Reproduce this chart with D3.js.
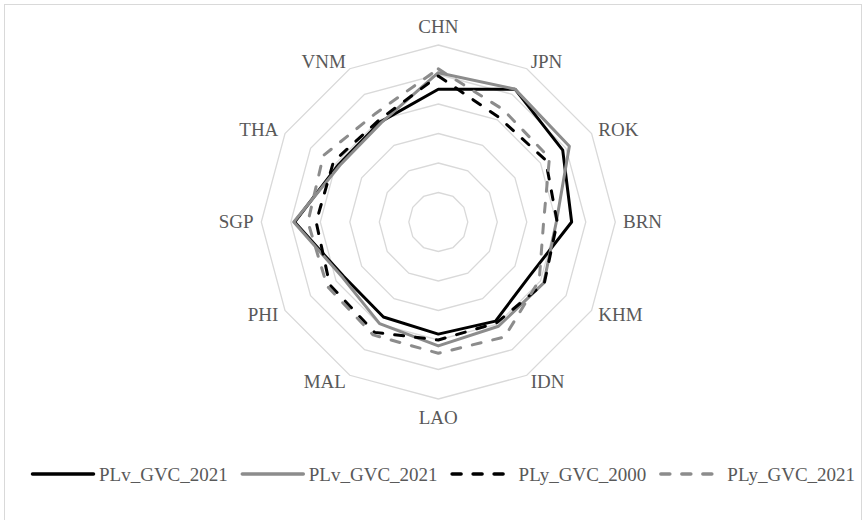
<!DOCTYPE html>
<html>
<head>
<meta charset="utf-8">
<script src="https://cdn.jsdelivr.net/npm/d3@7/dist/d3.min.js"></script>
<style>
  html, body { margin: 0; padding: 0; background: #fff; }
  svg { display: block; }
</style>
</head>
<body>
<svg id="chart" width="865" height="520"></svg>
<script>
// ---- data ----
const categories = ["CHN", "JPN", "ROK", "BRN", "KHM", "IDN", "LAO", "MAL", "PHI", "SGP", "THA", "VNM"];
const seriesNames = ["PLv_GVC_2021", "PLv_GVC_2021", "PLy_GVC_2000", "PLy_GVC_2021"];
const plvBlack  = [4.50, 5.20, 4.87, 4.52, 3.60, 3.88, 3.80, 3.72, 3.70, 4.87, 3.90, 3.92];
const plvGray   = [5.06, 5.20, 5.13, 4.00, 4.13, 4.08, 4.20, 3.98, 3.75, 4.90, 3.85, 3.88];
const ply2000   = [4.95, 4.10, 4.20, 4.03, 4.15, 3.95, 4.00, 4.32, 4.25, 4.14, 4.10, 4.00];
const ply2021   = [5.19, 4.40, 4.35, 3.57, 3.95, 4.50, 4.45, 4.42, 4.35, 4.42, 4.50, 4.25];
const gridLevels = [1, 2, 3, 4, 5, 6];

const seriesValues = [plvBlack, plvGray, ply2000, ply2021];
const seriesStyles = [
  { color: "#000000", dash: null },
  { color: "#8c8c8c", dash: null },
  { color: "#000000", dash: "9,12" },
  { color: "#8c8c8c", dash: "9,12" }
];

const FONT = "'Liberation Serif', 'Times New Roman', Times, 'DejaVu Serif', serif";

// ---- layout ----
const svg = d3.select("#chart");
const cx = 438.3, cy = 222, R = 177;
const labelColor = "#595959";

svg.append("rect").attr("x", 0).attr("y", 0).attr("width", 865).attr("height", 520).attr("fill", "#fff");
svg.append("rect").attr("x", 4.5).attr("y", 4.5).attr("width", 857).attr("height", 540)
  .attr("fill", "none").attr("stroke", "#d9d9d9").attr("stroke-width", 1);

const r = d3.scaleLinear().domain([0, 6]).range([0, R]);
const step = 2 * Math.PI / categories.length;
const ang = i => i * step;

const g = svg.append("g").attr("transform", `translate(${cx},${cy})`);

// grid polygons
const gridLine = d3.lineRadial().curve(d3.curveLinearClosed)
  .angle((d, i) => ang(i)).radius(d => r(d));
g.selectAll("path.grid").data(gridLevels).join("path")
  .attr("class", "grid")
  .attr("d", lv => gridLine(categories.map(() => lv)))
  .attr("fill", "none").attr("stroke", "#d9d9d9").attr("stroke-width", 1.3);

// category labels
const gap = 7.7;
categories.forEach((c, i) => {
  const a = ang(i);
  const s = Math.sin(a), co = -Math.cos(a);
  const px = (R + gap) * s, py = (R + gap) * co;
  let anchor = "middle", y = py + 6.3;
  if (Math.abs(s) < 0.01) {
    anchor = "middle";
    y = co < 0 ? py - 4 : py + 17.2;
  } else {
    anchor = s > 0 ? "start" : "end";
  }
  g.append("text").attr("x", px).attr("y", y)
    .attr("text-anchor", anchor).attr("fill", labelColor)
    .attr("font-family", FONT)
    .attr("font-size", "19px").text(c);
});

// series
const line = d3.lineRadial().curve(d3.curveLinearClosed)
  .angle((d, i) => ang(i)).radius(d => r(d));
seriesValues.forEach((vals, k) => {
  const st = seriesStyles[k];
  g.append("path").attr("d", line(vals))
    .attr("fill", "none").attr("stroke", st.color).attr("stroke-width", 3)
    .attr("stroke-linejoin", "round")
    .attr("stroke-linecap", "round")
    .attr("stroke-dasharray", st.dash);
});

// legend
const leg = svg.append("g");
let x0 = 31;
const ly = 474;
seriesNames.forEach((name, k) => {
  const st = seriesStyles[k];
  leg.append("line").attr("x1", x0 + 1.5).attr("x2", x0 + 62.5).attr("y1", ly).attr("y2", ly)
    .attr("stroke", st.color).attr("stroke-width", 3.5)
    .attr("stroke-linecap", "round").attr("stroke-dasharray", st.dash);
  const t = leg.append("text").attr("x", x0 + 68).attr("y", ly + 6.6)
    .attr("fill", labelColor).attr("font-family", FONT)
    .attr("font-size", "19px").text(name);
  const w = t.node().getComputedTextLength();
  x0 = x0 + 68 + w + 13;
});
</script>
</body>
</html>
